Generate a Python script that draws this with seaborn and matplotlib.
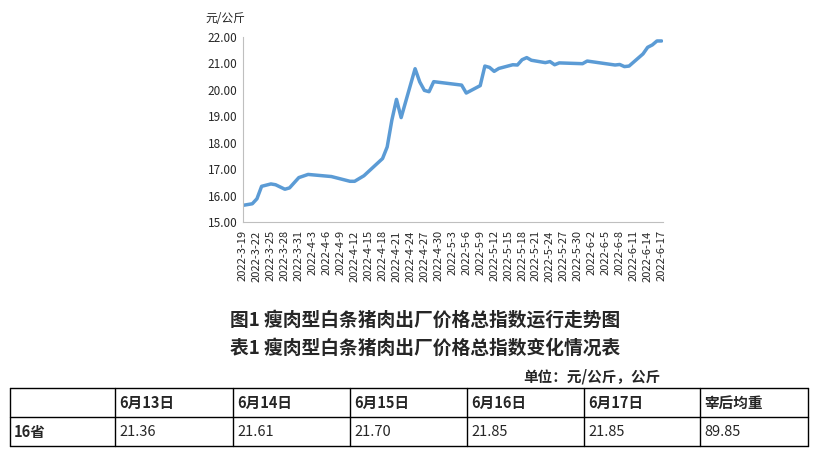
import matplotlib
matplotlib.use("Agg")
import matplotlib.pyplot as plt
import seaborn as sns
import pandas as pd
from matplotlib.lines import Line2D

sns.set_style("white")
plt.rcParams['font.family'] = ['Noto Sans CJK SC', 'DejaVu Sans']

day_offsets = [0, 2, 3, 4, 6, 7, 9, 10, 12, 14, 19, 23, 24, 26, 30, 31, 32, 33, 34, 37, 38, 39, 40, 41,
               47, 48, 51, 52, 53, 54, 55, 58, 59, 60, 61, 62, 65, 66, 67, 68, 73, 74, 80, 81, 82, 83,
               86, 87, 88, 89, 90]
prices = [15.63, 15.69, 15.88, 16.35, 16.44, 16.41, 16.24, 16.29, 16.68, 16.80, 16.72, 16.54, 16.54, 16.75,
          17.40, 17.84, 18.85, 19.64, 18.95, 20.80, 20.30, 19.98, 19.93, 20.31,
          20.18, 19.88, 20.16, 20.90, 20.85, 20.70, 20.81, 20.95, 20.94, 21.14, 21.22, 21.12, 21.03, 21.07,
          20.95, 21.02, 20.99, 21.09, 20.94, 20.96, 20.88, 20.90,
          21.36, 21.61, 21.70, 21.85, 21.85]
dates = pd.Timestamp("2022-03-19") + pd.to_timedelta(day_offsets, unit="D")
df = pd.DataFrame({"date": dates, "price": prices})

table_header = ["", "6月13日", "6月14日", "6月15日", "6月16日", "6月17日", "宰后均重"]
table_row = ["16省", "21.36", "21.61", "21.70", "21.85", "21.85", "89.85"]

W, H = 821, 451
fig = plt.figure(figsize=(W / 100, H / 100), dpi=100)
ax = fig.add_axes([243 / W, 1 - 222 / H, (663 - 243) / W, (222 - 37) / H])
sns.lineplot(data=df, x="date", y="price", ax=ax, color="#5b9bd5", linewidth=2.5)

ax.set_ylim(15, 22)
ax.set_yticks([15, 16, 17, 18, 19, 20, 21, 22])
ax.set_yticklabels([f"{v:.2f}" for v in range(15, 23)], fontsize=8.5)
ticks = pd.date_range("2022-03-19", "2022-06-17", freq="3D")
ax.set_xticks(ticks)
ax.set_xticklabels([f"{t.year}-{t.month}-{t.day}" for t in ticks], rotation=90, fontsize=8)
ax.set_xlim(ticks[0], ticks[-1] + pd.Timedelta(days=0.3))
ax.set_xlabel("")
ax.set_ylabel("")
for s in ["top", "right"]:
    ax.spines[s].set_visible(False)
for s in ["left", "bottom"]:
    ax.spines[s].set_color("#bfbfbf")
ax.tick_params(axis="x", length=4, color="#bfbfbf", pad=2)
ax.tick_params(axis="y", length=0, pad=4)
fig.text(205 / W, 1 - 18 / H, "元/公斤", fontsize=8.5, va="center")

fig.text(425 / W, 1 - 320 / H, "图1 瘦肉型白条猪肉出厂价格总指数运行走势图", fontsize=13.5, fontweight="bold", ha="center", va="center")
fig.text(425 / W, 1 - 348 / H, "表1 瘦肉型白条猪肉出厂价格总指数变化情况表", fontsize=13.5, fontweight="bold", ha="center", va="center")
fig.text(660 / W, 1 - 376 / H, "单位：元/公斤，公斤", fontsize=10.5, fontweight="bold", ha="right", va="center")

xs = [10, 115, 233, 350, 467, 584, 700, 808]
ys = [388, 417, 446]
for y in ys:
    fig.add_artist(Line2D([xs[0] / W, xs[-1] / W], [1 - y / H, 1 - y / H], color="black", lw=1))
for x in xs:
    fig.add_artist(Line2D([x / W, x / W], [1 - ys[0] / H, 1 - ys[-1] / H], color="black", lw=1))
for i, (h, r) in enumerate(zip(table_header, table_row)):
    fig.text((xs[i] + 4) / W, 1 - 403 / H, h, fontsize=10.5, fontweight="bold", va="center")
    fig.text((xs[i] + 4) / W, 1 - 432 / H, r, fontsize=10.5, fontweight="bold" if i == 0 else "normal", va="center")

fig.savefig("out.png", dpi=100, facecolor="white")
